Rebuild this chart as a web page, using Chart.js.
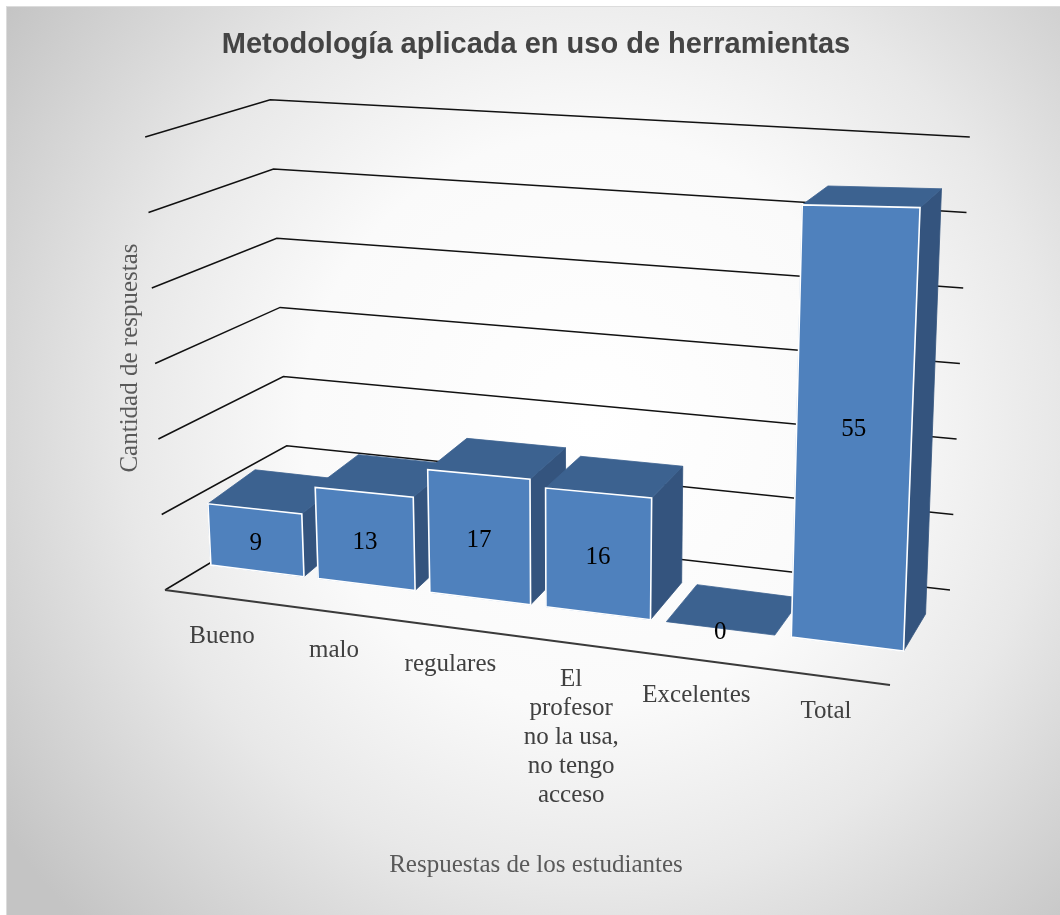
<!DOCTYPE html>
<html lang="es">
<head>
<meta charset="UTF-8">
<title>Metodología aplicada en uso de herramientas</title>
<script src="https://cdn.jsdelivr.net/npm/chart.js"></script>
<style>
  html, body { margin: 0; padding: 0; background: #fff; overflow: hidden; }
  canvas { display: block; }
</style>
</head>
<body>
<canvas id="chart" width="1060" height="915"></canvas>
<script>
  const categories = ['Bueno', 'malo', 'regulares', ['El', 'profesor', 'no la usa,', 'no tengo', 'acceso'], 'Excelentes', 'Total'];
  const respuestas = [9, 13, 17, 16, 0, 55];
  const yMin = 0;
  const yMax = 60;
  const yStep = 10;

  const colors = { front: '#4f81bd', top: '#3c6290', side: '#34547e' };
  const serif = '"Liberation Serif", "DejaVu Serif", serif';

  // rough fit of the Excel 3D perspective (c = category index, v = value, d = depth 0..1)
  function frontX(c) { return 257 + 107 * c + 2.2 * c * c; }
  function floorY(x) { return 571 + 0.124 * (x - 258); }
  function unitH(x) { return 6.9 + 0.0018 * (x - 258); }
  function proj(c, v, d) {
    const x0 = frontX(c);
    const x = x0 + v * (x0 - 570) * 0.0009;
    const y = floorY(x0) - v * unitH(x0);
    const dx = 47 - 0.036 * (x - 210);
    const dy = -37 + 0.33 * v;
    return [x + d * dx, y + d * dy];
  }

  // walls: front-left, back-left and back-right ends of a gridline at value t
  function wallFL(t) { return [165 - 0.33 * t, 590 - 7.55 * t]; }
  function wallBL(t) { return [290 - 0.33 * t, 515 - 6.92 * t]; }
  function wallBR(t) { return [950 + 0.33 * t, 590 - 7.55 * t]; }

  function poly(ctx, pts, fill) {
    ctx.beginPath();
    ctx.moveTo(pts[0][0], pts[0][1]);
    for (let i = 1; i < pts.length; i++) ctx.lineTo(pts[i][0], pts[i][1]);
    ctx.closePath();
    ctx.fillStyle = fill;
    ctx.fill();
    ctx.strokeStyle = fill;
    ctx.lineWidth = 0.8;
    ctx.stroke();
  }

  const bars3d = {
    id: 'bars3d',
    beforeDraw(chart) {
      const ctx = chart.ctx;
      ctx.save();
      ctx.fillStyle = '#ffffff';
      ctx.fillRect(0, 0, chart.width, chart.height);
      const g = ctx.createRadialGradient(590, 420, 0, 590, 420, 716);
      g.addColorStop(0, '#ffffff');
      g.addColorStop(0.4, '#fafafa');
      g.addColorStop(0.65, '#e8e8e8');
      g.addColorStop(1, '#c4c4c4');
      ctx.fillStyle = g;
      ctx.fillRect(6, 6, chart.width - 6, chart.height - 6);
      ctx.strokeStyle = '#dcdcdc';
      ctx.lineWidth = 1;
      ctx.strokeRect(6.5, 6.5, chart.width, chart.height);
      ctx.restore();
    },
    beforeDatasetsDraw(chart) {
      const ctx = chart.ctx;
      const ys = chart.scales.y;
      ctx.save();
      ctx.strokeStyle = '#111111';
      ctx.lineWidth = 1.5;
      ys.ticks.forEach(tk => {
        const a = wallFL(tk.value), b = wallBL(tk.value), c = wallBR(tk.value);
        ctx.beginPath();
        ctx.moveTo(a[0], a[1]);
        ctx.lineTo(b[0], b[1]);
        ctx.lineTo(c[0], c[1]);
        ctx.stroke();
      });
      // floor front edge = category axis
      const f = wallFL(yMin);
      ctx.strokeStyle = '#3a3a3a';
      ctx.lineWidth = 2;
      ctx.beginPath();
      ctx.moveTo(f[0], f[1]);
      ctx.lineTo(890, 685);
      ctx.stroke();
      ctx.restore();
    },
    afterDatasetsDraw(chart) {
      const ctx = chart.ctx;
      const xs = chart.scales.x, ys = chart.scales.y;
      const x0 = xs.getPixelForValue(0);
      const step = xs.getPixelForValue(1) - x0;
      const meta = chart.getDatasetMeta(0);
      ctx.save();
      meta.data.forEach((bar, i) => {
        const p = bar.getProps(['x', 'y', 'width'], true);
        const c = (p.x - x0) / step;
        const h = p.width / step / 2;
        const v = ys.getValueForPixel(p.y);
        const fl = proj(c - h, 0, 0), fr = proj(c + h, 0, 0);
        const tl = proj(c - h, v, 0), tr = proj(c + h, v, 0);
        const tlb = proj(c - h, v, 1), trb = proj(c + h, v, 1);
        const frb = proj(c + h, 0, 1);
        if (v > 0) poly(ctx, [fr, frb, trb, tr], colors.side);
        poly(ctx, [tl, tr, trb, tlb], colors.top);
        if (v > 0) {
          poly(ctx, [fl, fr, tr, tl], colors.front);
          ctx.strokeStyle = '#ffffff';
          ctx.lineWidth = 1.6;
          ctx.beginPath();
          ctx.moveTo(fl[0], fl[1]);
          ctx.lineTo(fr[0], fr[1]);
          ctx.lineTo(tr[0], tr[1]);
          ctx.lineTo(tl[0], tl[1]);
          ctx.closePath();
          ctx.stroke();
        }
        // value label in the middle of the front face
        const m = proj(c, v / 2, 0);
        ctx.fillStyle = '#000000';
        ctx.font = '25px ' + serif;
        ctx.textAlign = 'center';
        ctx.textBaseline = 'middle';
        ctx.fillText(String(chart.data.datasets[0].data[i]), m[0], m[1] + 4);
      });

      // category labels along the slanted floor edge
      ctx.fillStyle = '#404040';
      ctx.font = '25px ' + serif;
      ctx.textAlign = 'center';
      ctx.textBaseline = 'middle';
      chart.data.labels.forEach((lab, i) => {
        const lx = frontX(i) - 35 + 2.8 * i;
        const ly = floorY(lx) + 70;
        const lines = Array.isArray(lab) ? lab : [lab];
        lines.forEach((ln, k) => ctx.fillText(ln, lx, ly + k * 29));
      });
      ctx.restore();
    }
  };

  new Chart(document.getElementById('chart'), {
    type: 'bar',
    data: {
      labels: categories,
      datasets: [{
        label: 'Respuestas',
        data: respuestas,
        backgroundColor: 'rgba(0,0,0,0)',
        borderWidth: 0,
        barPercentage: 0.87,
        categoryPercentage: 1
      }]
    },
    options: {
      responsive: false,
      animation: false,
      layout: { padding: { left: 105, right: 141, top: 0, bottom: 0 } },
      plugins: {
        legend: { display: false },
        tooltip: { enabled: false },
        title: {
          display: true,
          fullSize: false,
          text: 'Metodología aplicada en uso de herramientas',
          color: '#444444',
          font: { family: '"Liberation Sans", Arial, sans-serif', size: 29, weight: 'bold' },
          padding: { top: 27.6, bottom: 10 }
        }
      },
      scales: {
        x: {
          grid: { display: false },
          border: { display: false },
          ticks: { display: false },
          title: {
            display: true,
            text: 'Respuestas de los estudiantes',
            color: '#595959',
            font: { family: serif, size: 25 },
            padding: { top: 198.4, bottom: 35 }
          }
        },
        y: {
          min: yMin,
          max: yMax,
          grid: { display: false },
          border: { display: false },
          ticks: { display: false, stepSize: yStep },
          title: {
            display: true,
            text: 'Cantidad de respuestas',
            color: '#595959',
            font: { family: serif, size: 25 },
            padding: { top: 10, bottom: 0 }
          }
        }
      }
    },
    plugins: [bars3d]
  });
</script>
</body>
</html>
